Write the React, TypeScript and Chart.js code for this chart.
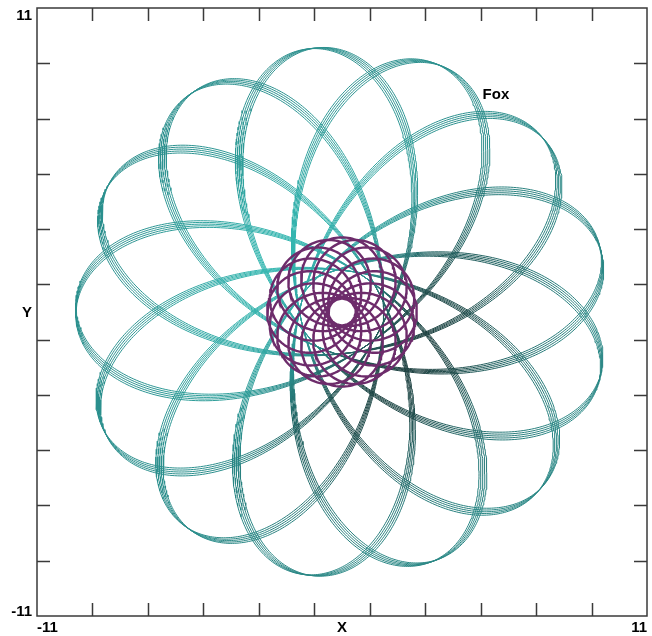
import React, { useEffect, useRef } from "react";
import { Chart, registerables } from "chart.js";

Chart.register(...registerables);

// Axis range and tick values
const AXIS_MIN = -11;
const AXIS_MAX = 11;
const TICK_VALUES = [-9, -7, -5, -3, -1, 1, 3, 5, 7, 9];
const END_LABELS = ["-11", "11"];
const X_TITLE = "X";
const Y_TITLE = "Y";

// Curve annotation
const NOTE_TEXT = "Fox";
const NOTE_POS = [5.55, 7.85];

// Teal curve: two rotating terms (amplitude, frequency)
const TEAL_AMPLITUDES = [4.05, 5.55];
const TEAL_FREQUENCIES = [-4, 9];
const TEAL_PHASE_DEG = 95;
// Purple curve
const PURPLE_AMPLITUDES = [1.11, 1.59];
const PURPLE_FREQUENCIES = [-1, 15];
const PURPLE_PHASE_DEG = 90;
// Small drift between the five traced passes of the teal curve (degrees)
const PASS_ROTATIONS_DEG = [0, 0.7, 1.4, 2.1, 2.8];

const TEAL_STOPS = ["#1a3434", "#2b8d8b", "#37bcb6"];
const PURPLE_COLOR = "#6d2c6b";

function hexToRgb(h: string) {
  const v = parseInt(h.slice(1), 16);
  return [(v >> 16) & 255, (v >> 8) & 255, v & 255];
}
function mix(stops: string[], u: number) {
  const n = stops.length - 1;
  const f = Math.min(Math.max(u, 0), 1) * n;
  const i = Math.min(Math.floor(f), n - 1);
  const t = f - i;
  const a = hexToRgb(stops[i]);
  const b = hexToRgb(stops[i + 1]);
  const c = a.map((v, k) => Math.round(v + (b[k] - v) * t));
  return `rgb(${c[0]},${c[1]},${c[2]})`;
}

function buildCurve(
  amps: number[],
  freqs: number[],
  phaseDeg: number,
  rotDeg: number,
  samplesPerLoop: number
) {
  const loops = freqs[1] - freqs[0];
  const total = loops * samplesPerLoop;
  const rot = ((phaseDeg + rotDeg) * Math.PI) / 180;
  const pts: { x: number; y: number }[] = [];
  for (let i = 0; i <= total; i++) {
    const th = (2 * Math.PI * i) / total;
    const a0 = freqs[0] * th + rot;
    const a1 = freqs[1] * th + rot;
    pts.push({
      x: amps[0] * Math.cos(a0) + amps[1] * Math.cos(a1),
      y: amps[0] * Math.sin(a0) + amps[1] * Math.sin(a1),
    });
  }
  return pts;
}

// shade: lighter up-left of the centre, darker down-right, neutral far out
function shadeAt(x: number, y: number) {
  const r = Math.hypot(x, y);
  const w = Math.exp(-Math.pow((r - 2.5) / 4, 2));
  return 0.5 + 0.48 * Math.tanh((-x + 0.8 * y) / 2.5) * w;
}

const framePlugin = {
  id: "frame",
  afterDraw(chart: any) {
    const { ctx, chartArea: a, scales } = chart;
    const xs = scales.x;
    const ys = scales.y;
    ctx.save();
    ctx.strokeStyle = "#3a3a3a";
    ctx.lineWidth = 1.5;
    ctx.strokeRect(a.left, a.top, a.right - a.left, a.bottom - a.top);
    const tl = 13;
    ctx.beginPath();
    TICK_VALUES.forEach((v) => {
      const px = Math.round(xs.getPixelForValue(v)) + 0.5;
      ctx.moveTo(px, a.bottom);
      ctx.lineTo(px, a.bottom - tl);
      ctx.moveTo(px, a.top);
      ctx.lineTo(px, a.top + tl);
      const py = Math.round(ys.getPixelForValue(v)) + 0.5;
      ctx.moveTo(a.left, py);
      ctx.lineTo(a.left + tl, py);
      ctx.moveTo(a.right, py);
      ctx.lineTo(a.right - tl, py);
    });
    ctx.stroke();

    ctx.fillStyle = "#000";
    ctx.font = "bold 15px 'Liberation Sans', Arial, sans-serif";
    ctx.textBaseline = "middle";
    ctx.textAlign = "left";
    ctx.fillText(END_LABELS[0], a.left, a.bottom + 12);
    ctx.textAlign = "right";
    ctx.fillText(END_LABELS[1], a.right, a.bottom + 12);
    ctx.textAlign = "center";
    ctx.fillText(X_TITLE, xs.getPixelForValue(0), a.bottom + 12);
    ctx.textAlign = "right";
    ctx.fillText(END_LABELS[1], a.left - 5, a.top + 8);
    ctx.fillText(END_LABELS[0], a.left - 5, a.bottom - 4);
    ctx.fillText(Y_TITLE, a.left - 5, ys.getPixelForValue(0) + 1);
    ctx.textAlign = "center";
    ctx.fillText(NOTE_TEXT, xs.getPixelForValue(NOTE_POS[0]), ys.getPixelForValue(NOTE_POS[1]));
    ctx.restore();
  },
};

export default function App() {
  const ref = useRef<HTMLCanvasElement | null>(null);
  useEffect(() => {
    if (!ref.current) return;
    const datasets: any[] = [];
    datasets.push({
      data: buildCurve(PURPLE_AMPLITUDES, PURPLE_FREQUENCIES, PURPLE_PHASE_DEG, 0, 120),
      showLine: true,
      pointRadius: 0,
      borderWidth: 2.4,
      borderColor: PURPLE_COLOR,
    });
    PASS_ROTATIONS_DEG.forEach((r) => {
      const pts = buildCurve(TEAL_AMPLITUDES, TEAL_FREQUENCIES, TEAL_PHASE_DEG, r, 220);
      const colors = pts.map((p, i) => {
        const q = pts[Math.min(i + 1, pts.length - 1)];
        const u = shadeAt((p.x + q.x) / 2, (p.y + q.y) / 2);
        return mix(TEAL_STOPS, Math.round(u * 30) / 30);
      });
      datasets.push({
        data: pts,
        showLine: true,
        pointRadius: 0,
        borderWidth: 1,
        borderColor: TEAL_STOPS[1],
        segment: { borderColor: (c: any) => colors[c.p0DataIndex] },
      });
    });
    const chart = new Chart(ref.current, {
      type: "scatter",
      data: { datasets },
      options: {
        animation: false,
        responsive: false,
        events: [],
        layout: { padding: { left: 37, right: 5, top: 8, bottom: 20 } },
        plugins: { legend: { display: false }, tooltip: { enabled: false } },
        scales: {
          x: { type: "linear", min: AXIS_MIN, max: AXIS_MAX, display: false },
          y: { type: "linear", min: AXIS_MIN, max: AXIS_MAX, display: false },
        },
      },
      plugins: [framePlugin],
    });
    return () => chart.destroy();
  }, []);
  return (
    <div style={{ position: "fixed", left: 0, top: 0, width: 652, height: 636, background: "#fff" }}>
      <canvas ref={ref} width={652} height={636} style={{ width: 652, height: 636 }} />
    </div>
  );
}
